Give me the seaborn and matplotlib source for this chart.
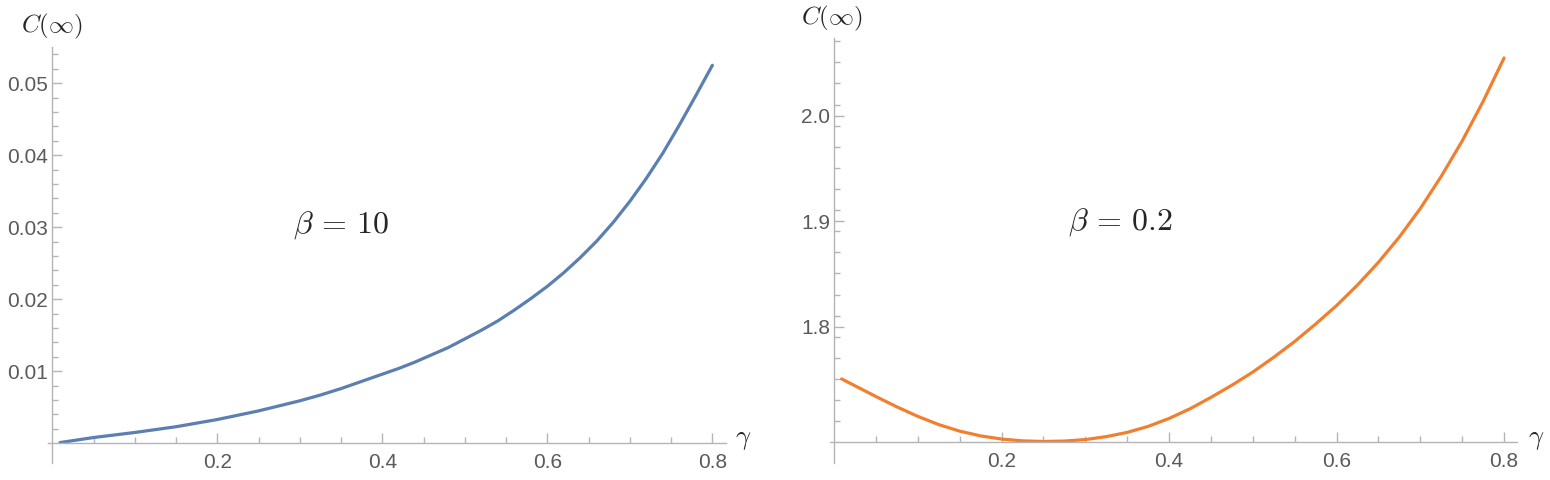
import matplotlib
matplotlib.use("Agg")
import pandas as pd
import matplotlib.pyplot as plt
from matplotlib.ticker import FixedLocator, FormatStrFormatter
import seaborn as sns

# C(inf) versus gamma
gamma_b10 = [0.0093, 0.05, 0.10, 0.15, 0.20, 0.225, 0.25, 0.275, 0.30, 0.325, 0.35, 0.375,
             0.40, 0.42, 0.44, 0.46, 0.48, 0.50, 0.52, 0.54, 0.56, 0.58, 0.60, 0.62,
             0.64, 0.66, 0.68, 0.70, 0.72, 0.74, 0.76, 0.78, 0.80]
c_b10 = [0.0001, 0.0008, 0.0015, 0.0023, 0.0033, 0.0039, 0.0045, 0.0052, 0.0059, 0.0067,
         0.0076, 0.0086, 0.0096, 0.0104, 0.0113, 0.0123, 0.0133, 0.0145, 0.0157, 0.0170,
         0.0185, 0.0201, 0.0218, 0.0237, 0.0258, 0.0281, 0.0307, 0.0336, 0.0368, 0.0403,
         0.0442, 0.0483, 0.0525]

gamma_b02 = [0.009, 0.025, 0.05, 0.075, 0.10, 0.125, 0.15, 0.175, 0.20, 0.225, 0.25,
             0.275, 0.30, 0.325, 0.35, 0.375, 0.40, 0.425, 0.45, 0.475, 0.50, 0.525,
             0.55, 0.575, 0.60, 0.625, 0.65, 0.675, 0.70, 0.725, 0.75, 0.775, 0.80]
c_b02 = [1.7505, 1.7440, 1.7338, 1.7240, 1.7150, 1.7072, 1.7010, 1.6965, 1.6935, 1.6918,
         1.6912, 1.6916, 1.6930, 1.6958, 1.6998, 1.7055, 1.7130, 1.7222, 1.7330, 1.7445,
         1.7570, 1.7710, 1.7860, 1.8025, 1.8200, 1.8395, 1.8610, 1.8850, 1.9120, 1.9425,
         1.9760, 2.0135, 2.0547]

x_major = [0.2, 0.4, 0.6, 0.8]
x_minor = [0.05, 0.1, 0.15, 0.25, 0.3, 0.35, 0.45, 0.5, 0.55, 0.65, 0.7, 0.75]
y_major_b10 = [0.01, 0.02, 0.03, 0.04, 0.05]
y_major_b02 = [1.8, 1.9, 2.0]

sns.set_style("white")
plt.rcParams['font.family'] = ['Liberation Sans', 'DejaVu Sans']
plt.rcParams['mathtext.fontset'] = 'cm'

axis_col = '#b4b4b4'
label_col = '#5a5a5a'

fig = plt.figure(figsize=(15.5, 4.8), dpi=100)
ax1 = fig.add_axes([0.0311, 0.0354, 0.4370, 0.8667])
ax2 = fig.add_axes([0.5354, 0.0354, 0.4436, 0.8854])

df1 = pd.DataFrame({'gamma': gamma_b10, 'C': c_b10})
df2 = pd.DataFrame({'gamma': gamma_b02, 'C': c_b02})
sns.lineplot(data=df1, x='gamma', y='C', ax=ax1, color='#5b7fb1', linewidth=2.3,
             clip_on=False, solid_joinstyle='round')
sns.lineplot(data=df2, x='gamma', y='C', ax=ax2, color='#f08030', linewidth=2.3,
             clip_on=False, solid_joinstyle='round')


def style_axes(ax, ylim, y_origin, y_major, y_step, fmt):
    ax.set_xlim(-0.005, 0.816)
    ax.set_ylim(*ylim)
    for s in ['top', 'right']:
        ax.spines[s].set_visible(False)
    ax.spines['left'].set_position(('data', 0))
    ax.spines['bottom'].set_position(('data', y_origin))
    for s in ['left', 'bottom']:
        ax.spines[s].set_color(axis_col)
        ax.spines[s].set_linewidth(1.0)
    ax.xaxis.set_major_locator(FixedLocator(x_major))
    ax.xaxis.set_minor_locator(FixedLocator(x_minor))
    ax.xaxis.set_major_formatter(FormatStrFormatter('%.1f'))
    ax.yaxis.set_major_locator(FixedLocator(y_major))
    y_minor = []
    v = y_origin + y_step
    while v < ylim[1]:
        if min(abs(v - m) for m in y_major) > 1e-9:
            y_minor.append(v)
        v += y_step
    ax.yaxis.set_minor_locator(FixedLocator(y_minor))
    ax.yaxis.set_major_formatter(FormatStrFormatter(fmt))
    ax.tick_params(which='both', direction='in', color=axis_col, width=1.0,
                   labelsize=15, labelcolor=label_col)
    ax.tick_params(which='major', length=7)
    ax.tick_params(which='minor', length=4)
    ax.tick_params(axis='x', which='both', bottom=True, pad=7)
    ax.tick_params(axis='y', which='both', left=True, pad=3)
    ax.set_xlabel('')
    ax.set_ylabel('')
    ax.patch.set_alpha(0)


style_axes(ax1, (-0.00274, 0.05504), 0.0, y_major_b10, 0.002, '%.2f')
style_axes(ax2, (1.6708, 2.0736), 1.6905, y_major_b02, 0.02, '%.1f')

ax1.text(0.35, 0.0303, r'$\beta\,=\,10$', fontsize=23, ha='center', va='center')
ax2.text(0.3415, 1.8995, r'$\beta\,=\,0.2$', fontsize=23, ha='center', va='center')

fig.text(21 / 1550, 1 - 26 / 480, r'$C(\infty)$', fontsize=18, ha='left', va='center')
fig.text(801 / 1550, 1 - 18 / 480, r'$C(\infty)$', fontsize=18, ha='left', va='center')
fig.text(735 / 1550, 1 - 440 / 480, r'$\gamma$', fontsize=19, ha='left', va='center')
fig.text(1528 / 1550, 1 - 440 / 480, r'$\gamma$', fontsize=19, ha='left', va='center')

fig.savefig('out.png', dpi=100, facecolor='white')
